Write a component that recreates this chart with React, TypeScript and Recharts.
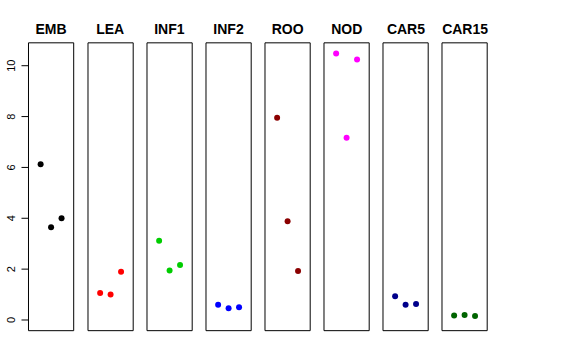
import React from "react";
import { ScatterChart, Scatter, XAxis, YAxis, ReferenceArea } from "recharts";

const categories = ["EMB", "LEA", "INF1", "INF2", "ROO", "NOD", "CAR5", "CAR15"];
const replicates = [1, 2, 3];
const embValues = [6.12, 3.65, 4.0];
const leaValues = [1.06, 1.0, 1.9];
const inf1Values = [3.12, 1.95, 2.16];
const inf2Values = [0.6, 0.46, 0.5];
const rooValues = [7.95, 3.88, 1.93];
const nodValues = [10.48, 7.17, 10.24];
const car5Values = [0.93, 0.6, 0.63];
const car15Values = [0.18, 0.2, 0.16];
const seriesValues = [embValues, leaValues, inf1Values, inf2Values, rooValues, nodValues, car5Values, car15Values];
const colors = ["#000000", "#FF0000", "#00CD00", "#0000FF", "#8B0000", "#FF00FF", "#00008B", "#006400"];
const yTicks = [0, 2, 4, 6, 8, 10];

const X_DOMAIN: [number, number] = [-0.16, 4.16];
const Y_DOMAIN: [number, number] = [-0.42, 10.9];
const PANEL_LEFT0 = 28.5;
const PANEL_STEP = 59.14;
const PANEL_W = 45.2;
const PLOT_TOP = 42.8;
const PLOT_BOTTOM = 29.3;
const YAXIS_W = 28.5;
const PAD = 2;
const FONT = "'Liberation Sans', Arial, Helvetica, sans-serif";

const YTick = (props: any) => {
  const { y, payload } = props;
  const bx = 15.5;
  return (
    <text x={bx} y={y} transform={`rotate(-90, ${bx}, ${y})`} textAnchor="middle" fontSize={11} fontFamily={FONT} fill="#000">
      {payload.value}
    </text>
  );
};

function Panel({ idx }: { idx: number }) {
  const first = idx === 0;
  const data = replicates.map((r, i) => ({ x: r, y: seriesValues[idx][i] }));
  const color = colors[idx];
  const left = PANEL_LEFT0 + PANEL_STEP * idx - (first ? YAXIS_W : PAD);
  const width = PANEL_W + (first ? YAXIS_W : PAD) + PAD;
  return (
    <div style={{ position: "absolute", left, top: 0 }}>
      <ScatterChart width={width} height={360} margin={{ top: PLOT_TOP, right: PAD, bottom: PLOT_BOTTOM, left: first ? 0 : PAD }}>
        <XAxis type="number" dataKey="x" domain={X_DOMAIN} hide allowDataOverflow />
        <YAxis
          type="number"
          dataKey="y"
          domain={Y_DOMAIN}
          ticks={yTicks}
          hide={!first}
          width={YAXIS_W}
          axisLine={false}
          tickSize={7}
          tickLine={{ stroke: "#000" }}
          tick={<YTick />}
          allowDataOverflow
        />
        <ReferenceArea x1={X_DOMAIN[0]} x2={X_DOMAIN[1]} y1={Y_DOMAIN[0]} y2={Y_DOMAIN[1]} fill="none" fillOpacity={0} stroke="#000" strokeWidth={1} />
        <Scatter
          data={data}
          isAnimationActive={false}
          shape={(p: any) => <circle cx={p.cx} cy={p.cy} r={3} fill={color} />}
        />
      </ScatterChart>
    </div>
  );
}

export default function App() {
  return (
    <div style={{ position: "absolute", left: 0, top: 0, width: 576, height: 360, background: "#fff" }}>
      {categories.map((c, i) => (
        <Panel key={c} idx={i} />
      ))}
      <svg width={576} height={360} style={{ position: "absolute", left: 0, top: 0, pointerEvents: "none" }}>
        {categories.map((c, i) => (
          <text
            key={c}
            x={PANEL_LEFT0 + PANEL_STEP * i + PANEL_W / 2}
            y={34.3}
            textAnchor="middle"
            fontSize={14}
            fontWeight="bold"
            fontFamily={FONT}
            fill="#000"
          >
            {c}
          </text>
        ))}
      </svg>
    </div>
  );
}
